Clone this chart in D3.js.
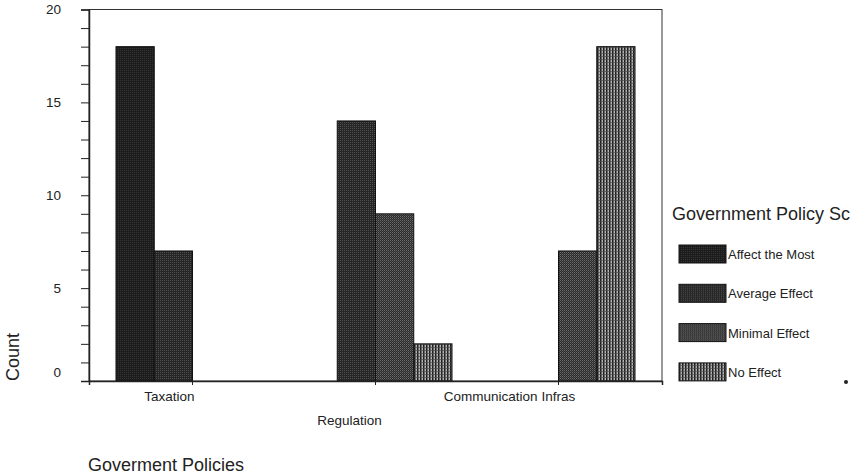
<!DOCTYPE html>
<html>
<head>
<meta charset="utf-8">
<script src="https://cdn.jsdelivr.net/npm/d3@7"></script>
<style>
  html, body { margin: 0; padding: 0; background: #ffffff; }
  svg { display: block; font-family: "Liberation Sans", Arial, sans-serif; }
</style>
</head>
<body>
<svg id="chart" width="851" height="474"></svg>
<script>
// ---- data ----
const categories = ["Taxation", "Regulation", "Communication Infras"];
const seriesNames = ["Affect the Most", "Average Effect", "Minimal Effect", "No Effect"];
const affectTheMost = [18, 0, 0];
const averageEffect = [7, 14, 0];
const minimalEffect = [0, 9, 7];
const noEffect      = [0, 2, 18];
const yTicks = [0, 5, 10, 15, 20];
const yTitle = "Count";
const xTitle = "Goverment Policies";
const legendTitle = "Government Policy Sc";

const seriesValues = [affectTheMost, averageEffect, minimalEffect, noEffect];

const svg = d3.select("#chart");
const plot = { left: 89, right: 662, top: 9.5, bottom: 381 };

// ---- patterns ----
const defs = svg.append("defs");
function pattern(id, w, h, base, marks) {
  const p = defs.append("pattern").attr("id", id).attr("patternUnits", "userSpaceOnUse")
    .attr("width", w).attr("height", h);
  p.append("rect").attr("width", w).attr("height", h).attr("fill", base);
  marks.forEach(m => p.append("rect").attr("x", m[0]).attr("y", m[1])
    .attr("width", m[2]).attr("height", m[3]).attr("fill", m[4]));
  return "url(#" + id + ")";
}
const fills = [
  pattern("pAffect", 2, 2, "#1c1c1c", [[0, 0, 1, 1, "#353535"]]),
  pattern("pAverage", 2, 2, "#262626", [[0, 0, 1, 1, "#4e4e4e"]]),
  pattern("pMinimal", 2, 2, "#2c2c2c", [[0, 0, 1, 1, "#6c6c6c"], [1, 1, 1, 1, "#4a4a4a"]]),
  pattern("pNone", 3, 3, "#b4b4b4", [[0, 0, 1.5, 3, "#1e1e1e"], [0, 2, 3, 0.7, "#4a4a4a"]])
];

// ---- scales ----
const x0 = d3.scaleBand().domain(categories).range([plot.left, plot.right])
  .paddingInner(0.164).paddingOuter(0.1475);
const x1 = d3.scaleBand().domain(seriesNames).range([0, x0.bandwidth()]);
const y = d3.scaleLinear().domain([0, 20]).range([plot.bottom, plot.top]);

// ---- frame ----
svg.append("rect").attr("x", plot.left).attr("y", plot.top)
  .attr("width", plot.right - plot.left).attr("height", plot.bottom - plot.top)
  .attr("fill", "none").attr("stroke", "#333").attr("stroke-width", 1);

// ---- bars ----
const rows = [];
categories.forEach((c, i) => {
  seriesNames.forEach((s, j) => {
    rows.push({ cat: c, ser: s, j: j, v: seriesValues[j][i] });
  });
});
svg.append("g").selectAll("rect").data(rows.filter(d => d.v > 0)).join("rect")
  .attr("x", d => x0(d.cat) + x1(d.ser))
  .attr("y", d => y(d.v))
  .attr("width", x1.bandwidth())
  .attr("height", d => y(0) - y(d.v))
  .attr("fill", d => fills[d.j])
  .attr("stroke", "#111").attr("stroke-width", 1);

// ---- y axis ----
const yAxis = d3.axisLeft(y).tickValues(d3.range(0, 21)).tickSize(8)
  .tickFormat(d => yTicks.includes(d) ? d : "");
const gy = svg.append("g").attr("transform", `translate(${plot.left},0)`).call(yAxis);
gy.select(".domain").attr("stroke", "#222").attr("stroke-width", 1.5);
gy.selectAll(".tick line").attr("stroke", "#222");
gy.selectAll(".tick text").attr("x", -28).attr("font-size", 13.5).attr("fill", "#222")
  .attr("font-family", "Liberation Sans, Arial, sans-serif")
  .attr("dy", d => d === 0 ? "-0.3em" : "0.32em");

// ---- x axis ----
const xAxis = d3.axisBottom(x0).tickSize(4).tickFormat("");
const gx = svg.append("g").attr("transform", `translate(0,${plot.bottom})`).call(xAxis);
gx.select(".domain").attr("stroke", "#222").attr("stroke-width", 1.5);
gx.selectAll(".tick line").attr("stroke", "#222");
const labelShift = [-23, -26, -49];
const labelRow = [0, 1, 0];
svg.append("g").selectAll("text").data(categories).join("text")
  .attr("x", (d, i) => x0(d) + x0.bandwidth() / 2 + labelShift[i])
  .attr("y", (d, i) => 401 + labelRow[i] * 24)
  .attr("text-anchor", "middle").attr("font-size", 13.5).attr("fill", "#222")
  .text(d => d);

// ---- titles ----
svg.append("text").attr("transform", "translate(19,357) rotate(-90)")
  .attr("text-anchor", "middle").attr("font-size", 18).attr("fill", "#222").text(yTitle);
svg.append("text").attr("x", 88).attr("y", 471).attr("font-size", 18).attr("fill", "#222").text(xTitle);

// ---- legend ----
const lg = svg.append("g");
lg.append("text").attr("x", 672).attr("y", 220).attr("font-size", 18).attr("fill", "#222").text(legendTitle);
const li = lg.selectAll("g.item").data(seriesNames).join("g").attr("class", "item")
  .attr("transform", (d, i) => `translate(679,${245 + i * 39.3})`);
li.append("rect").attr("width", 47).attr("height", 18).attr("fill", (d, i) => fills[i])
  .attr("stroke", "#111").attr("stroke-width", 1);
li.append("text").attr("x", 49).attr("y", 14).attr("font-size", 13).attr("fill", "#222").text(d => d);

// stray dot
svg.append("circle").attr("cx", 846).attr("cy", 382).attr("r", 2).attr("fill", "#222");
</script>
</body>
</html>
